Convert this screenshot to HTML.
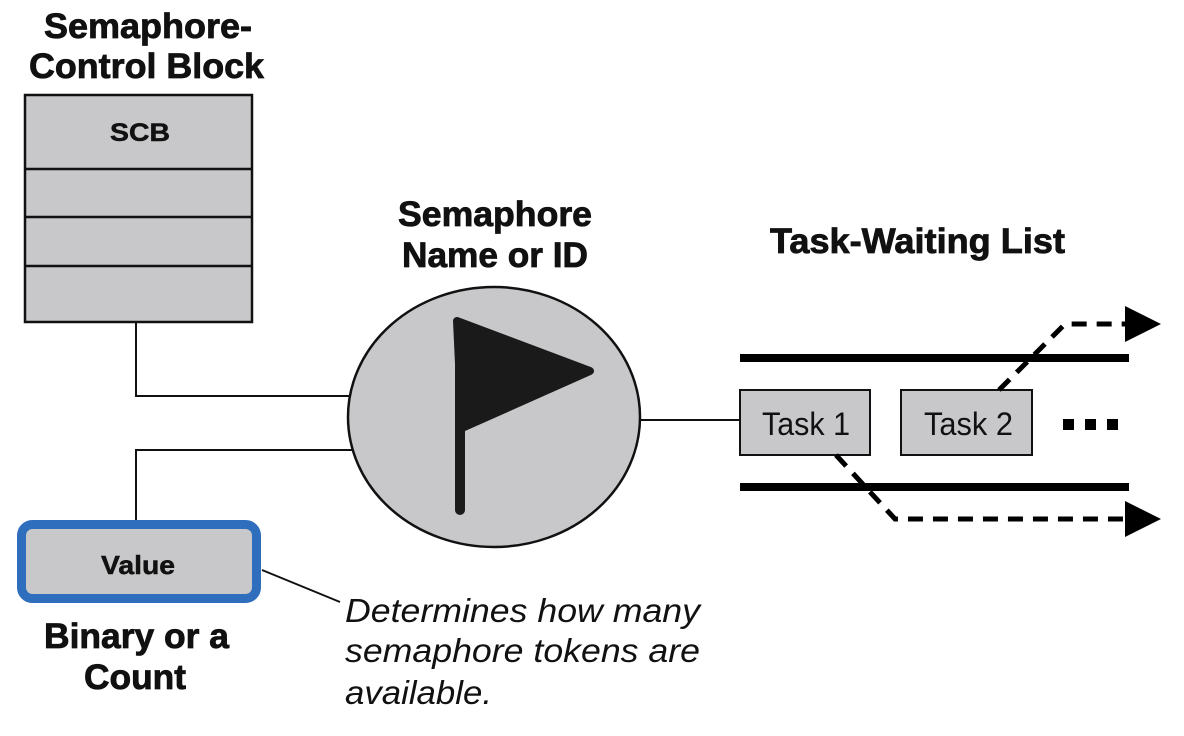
<!DOCTYPE html>
<html><head><meta charset="utf-8"><style>html,body{margin:0;padding:0;background:#fff}svg{display:block}</style></head>
<body>
<svg width="1184" height="736" viewBox="0 0 1184 736" xmlns="http://www.w3.org/2000/svg" font-family="Liberation Sans, sans-serif">
<g font-weight="bold" fill="#111" stroke="#111" stroke-width="0.8">
<text x="44" y="38" font-size="35" textLength="208" lengthAdjust="spacingAndGlyphs">Semaphore-</text>
<text x="29" y="78" font-size="35" textLength="235" lengthAdjust="spacingAndGlyphs">Control Block</text>
<text x="398" y="226" font-size="35" textLength="194" lengthAdjust="spacingAndGlyphs">Semaphore</text>
<text x="402" y="267" font-size="35" textLength="186" lengthAdjust="spacingAndGlyphs">Name or ID</text>
<text x="770" y="253" font-size="35" textLength="295" lengthAdjust="spacingAndGlyphs">Task-Waiting List</text>
<text x="44" y="648" font-size="35" textLength="185" lengthAdjust="spacingAndGlyphs">Binary or a</text>
<text x="84" y="689" font-size="35" textLength="102" lengthAdjust="spacingAndGlyphs">Count</text>
</g>
<rect x="25" y="95" width="227" height="227" fill="#c8c8ca" stroke="#111" stroke-width="2.5"/>
<line x1="25" y1="169" x2="252" y2="169" stroke="#111" stroke-width="2.5"/>
<line x1="25" y1="217" x2="252" y2="217" stroke="#111" stroke-width="2.5"/>
<line x1="25" y1="266" x2="252" y2="266" stroke="#111" stroke-width="2.5"/>
<text x="110" y="141" font-size="25" font-weight="bold" fill="#111" stroke="#111" stroke-width="0.5" textLength="60" lengthAdjust="spacingAndGlyphs">SCB</text>
<polyline points="136,322 136,396 352,396" fill="none" stroke="#111" stroke-width="2"/>
<polyline points="352,450 136,450 136,522" fill="none" stroke="#111" stroke-width="2"/>
<line x1="641" y1="420" x2="740" y2="420" stroke="#111" stroke-width="2"/>
<line x1="262" y1="570" x2="340" y2="602" stroke="#111" stroke-width="2"/>
<ellipse cx="494" cy="417" rx="146" ry="130" fill="#c8c8ca" stroke="#111" stroke-width="2.5"/>
<line x1="460" y1="325" x2="460" y2="510" stroke="#1a1a1a" stroke-width="10" stroke-linecap="round"/>
<polygon points="457,321 590,371 462,428" fill="#1a1a1a" stroke="#1a1a1a" stroke-width="8" stroke-linejoin="round"/>
<rect x="21.5" y="524.5" width="235" height="74" rx="11" fill="#c8c8ca" stroke="#2f6dbd" stroke-width="9"/>
<text x="101" y="574" font-size="26" font-weight="bold" fill="#111" stroke="#111" stroke-width="0.5" textLength="74" lengthAdjust="spacingAndGlyphs">Value</text>
<g font-style="italic" font-size="33" fill="#111">
<text x="345" y="622" textLength="355" lengthAdjust="spacingAndGlyphs">Determines how many</text>
<text x="345" y="662" textLength="355" lengthAdjust="spacingAndGlyphs">semaphore tokens are</text>
<text x="345" y="704" textLength="147" lengthAdjust="spacingAndGlyphs">available.</text>
</g>
<line x1="740" y1="358" x2="1129" y2="358" stroke="#000" stroke-width="8"/>
<line x1="740" y1="487" x2="1129" y2="487" stroke="#000" stroke-width="8"/>
<rect x="740" y="390" width="130" height="65" fill="#c8c8ca" stroke="#111" stroke-width="2"/>
<rect x="901" y="390" width="131" height="65" fill="#c8c8ca" stroke="#111" stroke-width="2"/>
<text x="762" y="435" font-size="32" fill="#111" textLength="88" lengthAdjust="spacingAndGlyphs">Task 1</text>
<text x="924" y="435" font-size="32" fill="#111" textLength="89" lengthAdjust="spacingAndGlyphs">Task 2</text>
<rect x="1063" y="419" width="11" height="11" fill="#000"/>
<rect x="1085" y="419" width="11" height="11" fill="#000"/>
<rect x="1107" y="419" width="11" height="11" fill="#000"/>
<polyline points="999,390 1065,324 1130,324" fill="none" stroke="#000" stroke-width="5" stroke-dasharray="15,10"/>
<polygon points="1125,306 1161,324 1125,342" fill="#000"/>
<polyline points="836,455 895,519 1130,519" fill="none" stroke="#000" stroke-width="5" stroke-dasharray="15,10"/>
<polygon points="1125,501 1161,519 1125,537" fill="#000"/>
</svg>
</body></html>
